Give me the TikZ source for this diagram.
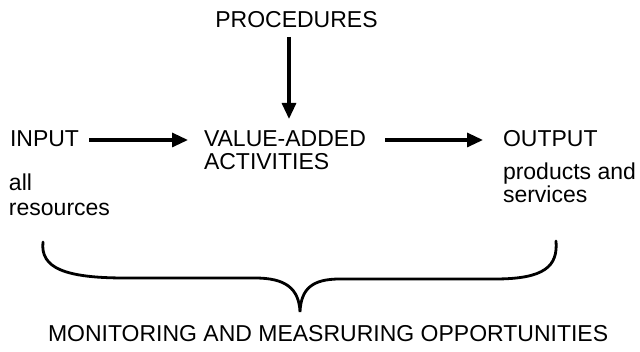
\documentclass[tikz,border=0pt]{standalone}
\usepackage{fontspec}
\setmainfont{Liberation Sans}
\usetikzlibrary{arrows.meta}
\newcommand{\twolines}[3]{\begin{tabular}[t]{@{}l@{}}#1\\[#3]#2\end{tabular}}
\begin{document}
\begin{tikzpicture}[x=1pt,y=-1pt,
  lbl/.style={inner sep=0pt,outer sep=0pt,font=\fontsize{23}{23}\selectfont},
  arr/.style={line width=3.2pt,-{Triangle[length=16pt,width=14pt]}},
  bracepen/.style={line width=2.8pt,line cap=round}]
\useasboundingbox (0,0) rectangle (640,352);
\node[lbl,anchor=base] (proc) at (296.5,28) {PROCEDURES};
\node[lbl,anchor=base west] (input) at (10,147) {INPUT};
\node[lbl,anchor=base west] (vaa) at (204,147) {\twolines{VALUE-ADDED}{ACTIVITIES}{0pt}};
\node[lbl,anchor=base west] (output) at (503,147) {OUTPUT};
\node[lbl,anchor=base west] (allres) at (9,191) {\twolines{all}{resources}{2pt}};
\node[lbl,anchor=base west] (prodserv) at (503,180) {\twolines{products and}{services}{-1pt}};
\node[lbl,anchor=base west] (mon) at (48,342) {MONITORING AND MEASRURING OPPORTUNITIES};
\coordinate (vtop) at (289,37);
\coordinate (vtip) at (289,119);
\coordinate (a1s) at (89,140);
\coordinate (a1e) at (188,140);
\coordinate (a2s) at (385,140);
\coordinate (a2e) at (483,140);
\draw[arr] (vtop) -- (vtip);
\draw[arr] (a1s) -- (a1e);
\draw[arr] (a2s) -- (a2e);
\coordinate (bl) at (43,242);
\coordinate (br) at (556,241);
\coordinate (btip) at (300,312);
\draw[bracepen] (bl) .. controls (40,268) and (65,278) .. (125,278)
  -- (255,278) .. controls (285,278) and (299,288) .. (btip)
  .. controls (301,288) and (313,279) .. (340,279)
  -- (495,279) .. controls (545,279) and (558,266) .. (br);
\end{tikzpicture}
\end{document}
